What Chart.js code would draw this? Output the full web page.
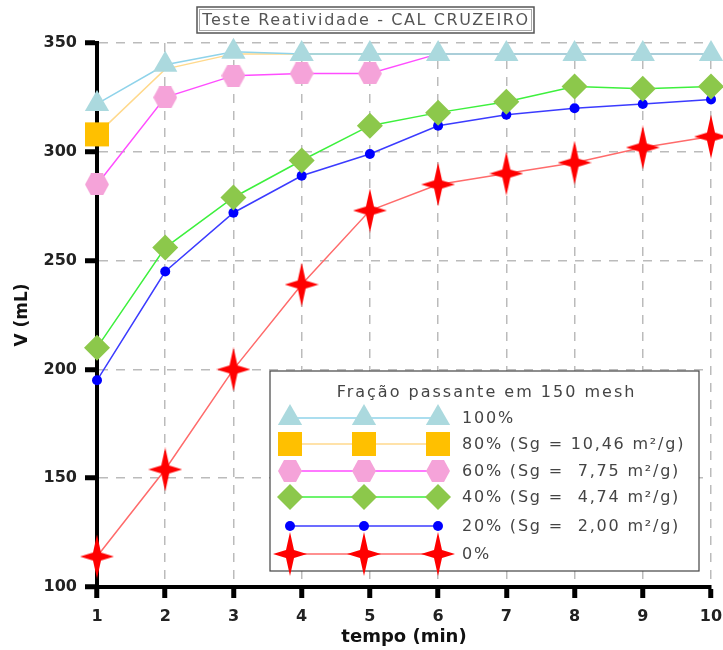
<!DOCTYPE html>
<html>
<head>
<meta charset="utf-8">
<script src="https://cdn.jsdelivr.net/npm/chart.js@4/dist/chart.umd.min.js"></script>
<style>
  html, body { margin: 0; padding: 0; background: #fff; }
</style>
</head>
<body>
<canvas id="myChart" width="723" height="650"></canvas>
<script>
// dados do ensaio
var tempo = [1, 2, 3, 4, 5, 6, 7, 8, 9, 10];
var v100 = [322, 340, 346, 345, 345, 345, 345, 345, 345, 345];
var v80 = [308, 338, 345, 345, 345, 345, 345, 345, 345, 345];
var v60 = [285, 325, 335, 336, 336, 345, 345, 345, 345, 345];
var v40 = [210, 256, 279, 296, 312, 318, 323, 330, 329, 330];
var v20 = [195, 245, 272, 289, 299, 312, 317, 320, 322, 324];
var v0 = [114, 154, 200, 239, 273, 285, 290, 295, 302, 307];
var rotulos = ['100%', '80% (Sg = 10,46 m\u00b2/g)', '60% (Sg =  7,75 m\u00b2/g)',
               '40% (Sg =  4,74 m\u00b2/g)', '20% (Sg =  2,00 m\u00b2/g)', '0%'];
var yTicks = [100, 150, 200, 250, 300, 350];
var titulo = 'Teste Reatividade - CAL CRUZEIRO';
var tituloLegenda = 'Fra\u00e7\u00e3o passante em 150 mesh';

// marcadores desenhados a mao
function hexagono(w, h, cor) {
    var c = document.createElement('canvas');
    c.width = w; c.height = h;
    var g = c.getContext('2d');
    g.fillStyle = cor;
    g.beginPath();
    g.moveTo(0, h / 2);
    g.lineTo(w * 0.25, 0);
    g.lineTo(w * 0.75, 0);
    g.lineTo(w, h / 2);
    g.lineTo(w * 0.75, h);
    g.lineTo(w * 0.25, h);
    g.closePath();
    g.fill();
    return c;
}
function estrela(w, h, cor) {
    var c = document.createElement('canvas');
    c.width = w; c.height = h;
    var g = c.getContext('2d');
    var cx = w / 2, cy = h / 2, r = 4;
    g.fillStyle = cor;
    g.beginPath();
    g.moveTo(cx, 0);
    g.lineTo(cx + r, cy - r);
    g.lineTo(w, cy);
    g.lineTo(cx + r, cy + r);
    g.lineTo(cx, h);
    g.lineTo(cx - r, cy + r);
    g.lineTo(0, cy);
    g.lineTo(cx - r, cy - r);
    g.closePath();
    g.fill();
    return c;
}

var imgHex = hexagono(24, 22, '#f5a3d9');
var imgStar = estrela(34, 44, '#ff0000');

function pontos(vals) {
    return tempo.map(function (t, i) { return { x: t, y: vals[i] }; });
}

var estilos = [
    { data: v100, line: '#8fd3ea', fill: '#abd9de', style: 'triangle', r: 14 },
    { data: v80, line: '#ffd98c', fill: '#ffc000', style: 'rect', r: 17 },
    { data: v60, line: '#ff4dff', fill: '#f5a3d9', style: imgHex, r: 12 },
    { data: v40, line: '#3df03d', fill: '#8cc84b', style: 'rectRot', r: 13 },
    { data: v20, line: '#3b3bff', fill: '#0000ff', style: 'circle', r: 5 },
    { data: v0, line: '#ff6b6b', fill: '#ff0000', style: imgStar, r: 18 }
];

var datasets = estilos.map(function (s, i) {
    var raios = s.data.map(function () { return s.r; });
    if (i === 1) raios = raios.map(function (r, k) { return k === 0 ? r : 0; });
    if (i === 2) raios = raios.map(function (r, k) { return k < 5 ? r : 0; });
    return {
        label: rotulos[i],
        data: pontos(s.data),
        borderColor: s.line,
        borderWidth: 1.5,
        backgroundColor: s.fill,
        pointBackgroundColor: s.fill,
        pointBorderWidth: 0,
        pointBorderColor: s.fill,
        pointStyle: s.style,
        pointRadius: raios,
        pointHoverRadius: raios,
        tension: 0,
        clip: false
    };
});

// caixa do titulo + legenda com tres marcadores
var caixas = {
    id: 'caixas',
    afterDraw: function (chart) {
        var ctx = chart.ctx;
        ctx.save();
        ctx.letterSpacing = '1.6px';
        // titulo
        ctx.font = '16px "DejaVu Sans"';
        ctx.fillStyle = '#fff';
        ctx.fillRect(197, 7, 337, 26);
        ctx.strokeStyle = '#555';
        ctx.lineWidth = 1.5;
        ctx.strokeRect(197, 7, 337, 26);
        ctx.strokeStyle = '#aaa';
        ctx.lineWidth = 1;
        ctx.strokeRect(199.5, 9.5, 332, 21);
        ctx.fillStyle = '#555';
        ctx.textAlign = 'center';
        ctx.textBaseline = 'middle';
        ctx.fillText(titulo, 366, 21);

        // legenda
        var lx = 270, ly = 371, lw = 429, lh = 200;
        ctx.fillStyle = '#fff';
        ctx.fillRect(lx, ly, lw, lh);
        ctx.strokeStyle = '#444';
        ctx.lineWidth = 1.2;
        ctx.strokeRect(lx, ly, lw, lh);
        ctx.fillStyle = '#444';
        ctx.font = '16px "DejaVu Sans"';
        ctx.letterSpacing = '2px';
        ctx.fillText(tituloLegenda, lx + lw / 2 + 2, 393);
        ctx.letterSpacing = '1.8px';
        var ys = [418, 444, 471, 497, 526, 554];
        var xs = [290, 364, 438];
        chart.data.datasets.forEach(function (ds, i) {
            var s = estilos[i];
            ctx.strokeStyle = s.line;
            ctx.lineWidth = 1.5;
            ctx.beginPath();
            ctx.moveTo(xs[0], ys[i]);
            ctx.lineTo(xs[2], ys[i]);
            ctx.stroke();
            xs.forEach(function (x) {
                ctx.fillStyle = s.fill;
                ctx.strokeStyle = s.fill;
                Chart.helpers.drawPoint(ctx, {
                    pointStyle: s.style, radius: s.r, rotation: 0, borderWidth: 0
                }, x, ys[i]);
            });
            ctx.fillStyle = '#444';
            ctx.textAlign = 'left';
            ctx.fillText(ds.label, 462, ys[i] + 1);
            ctx.textAlign = 'center';
        });
        ctx.restore();
    }
};

var config = {
    type: 'line',
    data: { datasets: datasets },
    options: {
        responsive: false,
        animation: false,
        layout: { autoPadding: false, padding: { top: 43, right: 12, bottom: 2, left: 4 } },
        plugins: {
            legend: { display: false },
            title: { display: false },
            tooltip: { enabled: false }
        },
        scales: {
            x: {
                type: 'linear',
                min: 1,
                max: 10,
                ticks: {
                    stepSize: 1,
                    color: '#222',
                    padding: 9,
                    font: { family: '"DejaVu Sans"', size: 16, weight: 'bold' }
                },
                grid: {
                    color: '#bbb',
                    lineWidth: 1.5,
                    tickColor: '#000',
                    tickWidth: 5,
                    tickLength: 11,
                    tickBorderDash: []
                },
                border: { color: '#000', width: 4, dash: [9, 8] },
                title: {
                    display: true,
                    text: 'tempo (min)',
                    color: '#111',
                    padding: { top: 0, bottom: 0 },
                    font: { family: '"DejaVu Sans"', size: 18, weight: 'bold' }
                },
                afterFit: function (scale) {
                    scale.height = 61;
                    scale.paddingLeft = 0;
                    scale.paddingRight = 0;
                }
            },
            y: {
                min: 100,
                max: 350,
                afterBuildTicks: function (scale) {
                    scale.ticks = yTicks.map(function (v) { return { value: v }; });
                },
                ticks: {
                    color: '#222',
                    padding: 8,
                    font: { family: '"DejaVu Sans"', size: 16, weight: 'bold' }
                },
                grid: {
                    color: '#bbb',
                    lineWidth: 1.5,
                    tickColor: '#000',
                    tickWidth: 5,
                    tickLength: 12,
                    tickBorderDash: []
                },
                border: { color: '#000', width: 4, dash: [9, 8] },
                title: {
                    display: true,
                    text: 'V (mL)',
                    color: '#111',
                    padding: { top: 8, bottom: 0 },
                    font: { family: '"DejaVu Sans"', size: 17, weight: 'bold' }
                },
                afterFit: function (scale) {
                    scale.width = 93;
                    scale.paddingTop = 0;
                    scale.paddingBottom = 0;
                }
            }
        }
    },
    plugins: [caixas]
};

var ctx = document.getElementById('myChart').getContext('2d');
var myChart = new Chart(ctx, config);
</script>
</body>
</html>
